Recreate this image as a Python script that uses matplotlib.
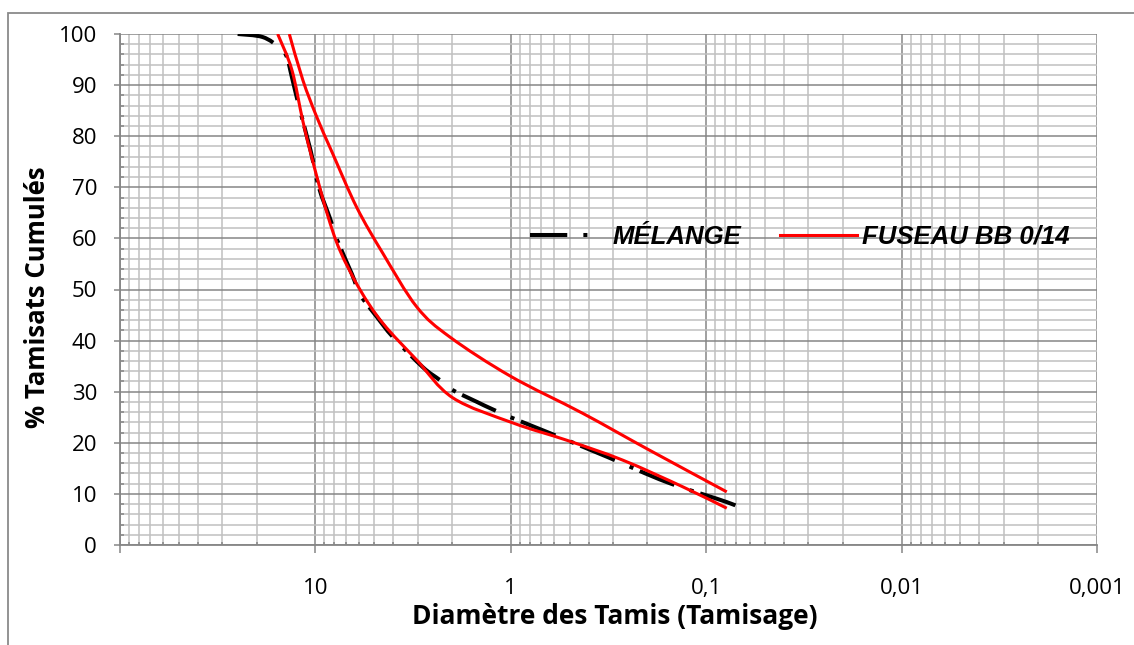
import matplotlib
matplotlib.use("Agg")
import matplotlib.pyplot as plt
from matplotlib.lines import Line2D
from matplotlib.patches import Rectangle, PathPatch
from matplotlib.path import Path
from matplotlib import font_manager
import numpy as np

# ---- data (sieve size in mm, % passing) ----
melange_d = [25, 18.6, 15.2, 14.0, 13.2, 12.0, 10.6, 9.6, 8.4, 7.8, 6.5, 5.9, 4.86,
             4.01, 2.82, 2.31, 1.98, 1.49, 1.28, 0.988, 0.632, 0.319, 0.159, 0.0785, 0.063]
melange_p = [100, 99.4, 97.3, 95.5, 91.6, 85.1, 77.3, 70.0, 63.8, 60.0, 53.0, 49.0, 44.7,
             40.7, 34.8, 32.3, 30.3, 28.0, 26.8, 24.9, 21.9, 17.2, 12.3, 8.4, 6.8]

fus_low_d = [15.6, 13.2, 11.6, 10.3, 8.73, 7.5, 5.92, 4.52, 3.03, 1.98,
             0.977, 0.517, 0.267, 0.132, 0.0785]
fus_low_p = [100, 93, 83, 75, 65, 57.7, 50, 43.4, 36.2, 28.8,
             23.9, 20.5, 16.6, 11.4, 7.2]

fus_up_d = [13.6, 11.6, 9.85, 8.18, 6.15, 4.52, 3.03, 2.05, 1.0, 0.43, 0.196, 0.0785]
fus_up_p = [100, 91, 83.8, 76.7, 66.1, 57.1, 46.6, 40.7, 33.0, 25.8, 18.6, 10.4]

xticks = [100, 10, 1, 0.1, 0.01, 0.001]
xticklabels = ['', '10', '1', '0,1', '0,01', '0,001']


def smooth_path(d, p):
    # excel-like smoothed line: bezier segments through the points (log x space)
    x = np.log10(d)
    y = np.asarray(p, dtype=float)
    n = len(x)
    verts = [(x[0], y[0])]
    codes = [Path.MOVETO]
    for i in range(n - 1):
        xa, ya = (x[i - 1], y[i - 1]) if i > 0 else (x[i], y[i])
        xb, yb = (x[i + 2], y[i + 2]) if i + 2 < n else (x[i + 1], y[i + 1])
        c1 = (x[i] + (x[i + 1] - xa) / 6, y[i] + (y[i + 1] - ya) / 6)
        c2 = (x[i + 1] - (xb - x[i]) / 6, y[i + 1] - (yb - y[i]) / 6)
        verts += [c1, c2, (x[i + 1], y[i + 1])]
        codes += [Path.CURVE4] * 3
    verts = [(10 ** vx, vy) for vx, vy in verts]
    return Path(verts, codes)


# ---- fonts ----
names = {f.name for f in font_manager.fontManager.ttflist}
tick_font = 'Open Sans' if 'Open Sans' in names else 'DejaVu Sans'
leg_font = 'Liberation Sans'

W, H = 1134, 645
fig = plt.figure(figsize=(W / 100, H / 100), dpi=100)
ax = fig.add_axes([120 / W, 1 - 545 / H, (1097 - 120) / W, (545 - 34) / H])

major_c = '#868686'
minor_c = '#c0c0c0'

ax.set_xscale('log')
ax.set_xlim(100, 0.001)
ax.set_ylim(0, 100)
ax.set_xticks(xticks)
ax.set_xticklabels(xticklabels)
ax.xaxis.set_minor_locator(matplotlib.ticker.LogLocator(base=10, subs=np.arange(2, 10)))
ax.xaxis.set_minor_formatter(matplotlib.ticker.NullFormatter())
ax.set_yticks(np.arange(0, 101, 10))
ax.set_yticks(np.arange(0, 101, 2), minor=True)

ax.grid(which='minor', color=minor_c, lw=1.1)
ax.grid(which='major', color=major_c, lw=1.1)
ax.set_axisbelow(True)

for s in ['top', 'right']:
    ax.spines[s].set_visible(False)
for s in ['left', 'bottom']:
    ax.spines[s].set_color(major_c)
    ax.spines[s].set_linewidth(1.3)

ax.tick_params(axis='x', which='major', direction='out', length=5.5, color=major_c,
               width=1.1, pad=18, labelsize=16)
ax.tick_params(axis='x', which='minor', direction='in', length=2.5, color=major_c, width=1.1)
ax.tick_params(axis='y', which='major', direction='out', length=4.5, color=major_c,
               width=1.1, pad=12, labelsize=16)
ax.tick_params(axis='y', which='minor', direction='in', length=3, color=major_c, width=1.1)
for lab in ax.get_xticklabels() + ax.get_yticklabels():
    lab.set_fontfamily(tick_font)

# ---- curves ----
mel_style = (0, (9.25, 4, 1, 1.75))
mel = PathPatch(smooth_path(melange_d, melange_p), fill=False, ec='black', lw=2.9,
                linestyle=mel_style, capstyle='butt', zorder=3)
ax.add_patch(mel)
for d, p in [(fus_low_d, fus_low_p), (fus_up_d, fus_up_p)]:
    ax.add_patch(PathPatch(smooth_path(d, p), fill=False, ec='#ff0000', lw=2.2, zorder=4))

# legend proxies
mel_proxy = Line2D([], [], color='black', lw=2.9, linestyle=(0, (9.25, 4, 1, 6)),
                   dash_capstyle='butt')
red_proxy = Line2D([], [], color='#ff0000', lw=2.2)
fig.legend(handles=[mel_proxy, red_proxy], labels=['MÉLANGE', 'FUSEAU BB 0/14'],
           loc='center left', bbox_to_anchor=(530 / W, 1 - 237 / H), ncol=2,
           frameon=False, handlelength=3.0, handletextpad=0.2, columnspacing=1.5,
           borderpad=0, borderaxespad=0,
           prop={'family': leg_font, 'weight': 'bold', 'style': 'italic', 'size': 18.5})

# ---- axis titles ----
fig.text(38 / W, 1 - 297 / H, '% Tamisats Cumulés', rotation=90, ha='center', va='center',
         fontsize=18.5, fontweight='bold', family=tick_font)
fig.text(615 / W, 1 - 617 / H, 'Diamètre des Tamis (Tamisage)', ha='center', va='center',
         fontsize=19, fontweight='bold', family=tick_font)

# outer chart border
fig.patches.append(Rectangle((8 / W, -0.1), 1.2, 1 - 13 / H + 0.1, transform=fig.transFigure,
                             fill=False, ec='#8a8a8a', lw=1.3))

fig.savefig('out.png', dpi=100)
